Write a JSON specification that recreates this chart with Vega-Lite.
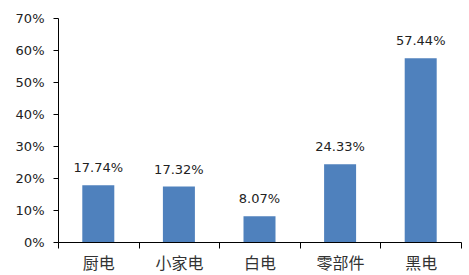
{
  "$schema": "https://vega.github.io/schema/vega-lite/v6.json",
  "width": 403,
  "height": 224,
  "autosize": "none",
  "padding": {"left": 58, "top": 18, "right": 8, "bottom": 33},
  "background": "white",
  "config": {
    "view": {"stroke": null},
    "axis": {"grid": false, "domainColor": "#000000", "tickColor": "#000000", "labelColor": "#222222"}
  },
  "data": {
    "values": [
      {"category": "厨电", "share": 0.1774},
      {"category": "小家电", "share": 0.1732},
      {"category": "白电", "share": 0.0807},
      {"category": "零部件", "share": 0.2433},
      {"category": "黑电", "share": 0.5744}
    ]
  },
  "encoding": {
    "x": {
      "field": "category",
      "type": "nominal",
      "sort": null,
      "scale": {"paddingInner": 0, "paddingOuter": 0},
      "axis": {
        "title": null,
        "labelAngle": 0,
        "tickBand": "extent",
        "tickSize": 6,
        "labelPadding": 7,
        "labelFont": "Noto Sans CJK SC",
        "labelFontSize": 16,
        "labelColor": "#333333"
      }
    },
    "y": {
      "field": "share",
      "type": "quantitative",
      "scale": {"domain": [0, 0.7], "nice": false},
      "axis": {
        "title": null,
        "values": [0, 0.1, 0.2, 0.3, 0.4, 0.5, 0.6, 0.7],
        "format": ".0%",
        "tickSize": 5,
        "labelPadding": 9,
        "labelFont": "DejaVu Sans",
        "labelFontSize": 13
      }
    }
  },
  "layer": [
    {
      "mark": {"type": "bar", "size": 32, "color": "#4F81BD"}
    },
    {
      "mark": {"type": "text", "baseline": "alphabetic", "dy": -13, "font": "DejaVu Sans", "fontSize": 13, "color": "#222222"},
      "encoding": {
        "text": {"field": "share", "type": "quantitative", "format": ".2%"}
      }
    }
  ]
}
